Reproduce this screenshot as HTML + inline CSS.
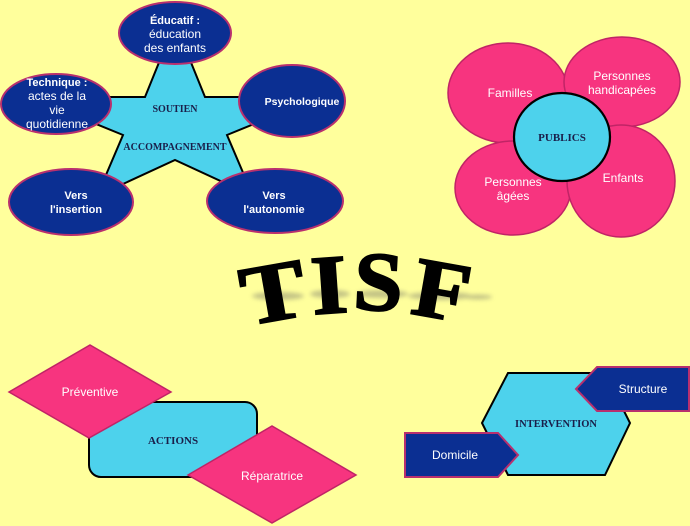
<!DOCTYPE html>
<html><head><meta charset="utf-8">
<style>
html,body{margin:0;padding:0;background:#FFFF9C;}
svg{display:block;}
.w{fill:#fff;font-family:"Liberation Sans","DejaVu Sans",sans-serif;font-size:12px;text-anchor:middle;}
.b{font-weight:bold;font-size:11px;}
.s{fill:#1a1f4a;font-family:"Liberation Serif",serif;font-weight:bold;text-anchor:middle;}
</style></head>
<body>
<svg width="690" height="526" viewBox="0 0 690 526" xmlns="http://www.w3.org/2000/svg">
<defs>
<filter id="bl" x="-20%" y="-100%" width="140%" height="300%"><feGaussianBlur stdDeviation="2.2"/></filter>
</defs>
<rect width="690" height="526" fill="#FFFF9C"/>

<!-- Star -->
<polygon points="175,23 205,97 320,97 227,135 253,196 175,160 97,196 123,135 30,97 145,97" fill="#4DD2EC" stroke="#000" stroke-width="2" stroke-linejoin="miter"/>
<text class="s" x="175" y="112" font-size="10">SOUTIEN</text>
<text class="s" x="175" y="150" font-size="10">ACCOMPAGNEMENT</text>

<g fill="#0B2F92" stroke="#B8306E" stroke-width="2">
<ellipse cx="175" cy="33" rx="56" ry="31"/>
<ellipse cx="56" cy="104" rx="55" ry="30"/>
<ellipse cx="292" cy="101" rx="53" ry="36"/>
<ellipse cx="71" cy="202" rx="62" ry="33"/>
<ellipse cx="275" cy="201" rx="68" ry="32"/>
</g>
<text class="w b" x="175" y="24">Éducatif :</text>
<text class="w" x="175" y="38">éducation</text>
<text class="w" x="175" y="52">des enfants</text>
<text class="w b" x="57" y="86">Technique :</text>
<text class="w" x="57" y="100">actes de la</text>
<text class="w" x="57" y="114">vie</text>
<text class="w" x="57" y="128">quotidienne</text>
<text class="w b" x="302" y="105" style="font-size:10.5px">Psychologique</text>
<text class="w b" x="76" y="199">Vers</text>
<text class="w b" x="76" y="213">l'insertion</text>
<text class="w b" x="274" y="199">Vers</text>
<text class="w b" x="274" y="213">l'autonomie</text>

<!-- Flower -->
<g fill="#F7347F" stroke="#C02466" stroke-width="1.5">
<ellipse cx="508" cy="93" rx="60" ry="50"/>
<ellipse cx="622" cy="82" rx="58" ry="45"/>
<ellipse cx="513" cy="188" rx="58" ry="47"/>
<ellipse cx="621" cy="181" rx="54" ry="56"/>
</g>
<ellipse cx="562" cy="137" rx="48" ry="44" fill="#4DD2EC" stroke="#000" stroke-width="2.2"/>
<text class="s" x="562" y="141" font-size="11">PUBLICS</text>
<text class="w" x="510" y="97">Familles</text>
<text class="w" x="622" y="80">Personnes</text>
<text class="w" x="622" y="94">handicapées</text>
<text class="w" x="513" y="186">Personnes</text>
<text class="w" x="513" y="200">âgées</text>
<text class="w" x="623" y="182">Enfants</text>

<!-- TISF shadow -->
<g filter="url(#bl)" fill="#8a8a70" opacity="0.5">
<ellipse cx="278" cy="296" rx="26" ry="4"/>
<ellipse cx="330" cy="294" rx="20" ry="4"/>
<ellipse cx="382" cy="294" rx="26" ry="4"/>
<ellipse cx="440" cy="296" rx="32" ry="4"/>
<ellipse cx="478" cy="297" rx="14" ry="2.5"/>
</g>
<!-- TISF -->
<g font-family="Liberation Serif, serif" font-weight="bold" font-size="84" fill="#000" stroke="#000" stroke-width="2" text-anchor="middle">
<text x="0" y="0" transform="translate(278,320) rotate(-10) scale(1.15,1)">T</text>
<text x="0" y="0" transform="translate(331,313) rotate(-4) scale(1.1,1)">I</text>
<text x="0" y="0" transform="translate(377,310) rotate(3) scale(1.05,1)">S</text>
<text x="0" y="0" transform="translate(437,318) rotate(10) scale(1.1,1)">F</text>
</g>

<!-- Actions -->
<rect x="89" y="402" width="168" height="75" rx="12" ry="12" fill="#4DD2EC" stroke="#000" stroke-width="2"/>
<text class="s" x="173" y="444" font-size="11">ACTIONS</text>
<g fill="#F7347F" stroke="#C02466" stroke-width="1.5">
<polygon points="9,392 90,345 171,392 89,438"/>
<polygon points="188,475 272,426 356,475 272,523"/>
</g>
<text class="w" x="90" y="396">Préventive</text>
<text class="w" x="272" y="480">Réparatrice</text>

<!-- Intervention -->
<polygon points="482,423 508,373 605,373 630,423 605,475 508,475" fill="#4DD2EC" stroke="#000" stroke-width="2"/>
<text class="s" x="556" y="427" font-size="10.5">INTERVENTION</text>
<g fill="#0B2F92" stroke="#B8306E" stroke-width="2">
<polygon points="576,389 597,367 689,367 689,411 597,411"/>
<polygon points="405,433 498,433 518,455 498,477 405,477"/>
</g>
<text class="w" x="643" y="393">Structure</text>
<text class="w" x="455" y="459">Domicile</text>
</svg>
</body></html>
